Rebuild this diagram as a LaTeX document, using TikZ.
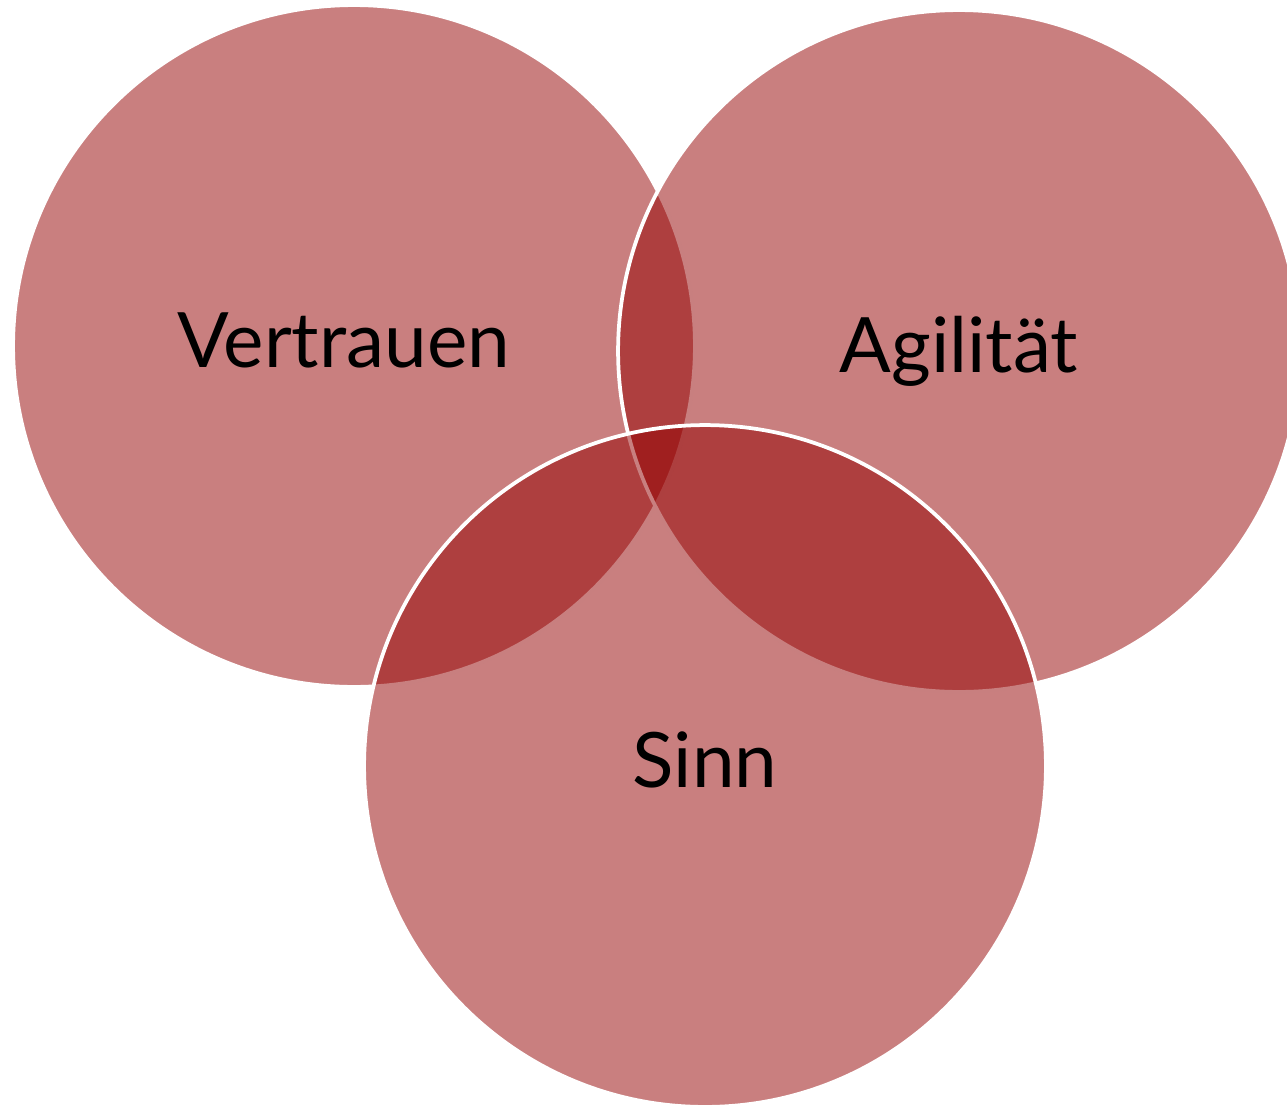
\documentclass[tikz,border=0pt]{standalone}
\usepackage{fontspec}
\setmainfont{Lato}
\definecolor{vennred}{RGB}{147,0,0}

\begin{document}
\begin{tikzpicture}[x=0.02cm, y=-0.02cm,
    bubble/.style ={circle, draw=white, line width=0.075cm, fill=vennred,
      fill opacity=0.5, text opacity=1, minimum size=13.64cm, inner sep=0pt,
      text height=1.2cm, text depth=0.36cm,
      font=\fontsize{43.5}{50}\selectfont}]
   \clip (0,0) rectangle (1287,1109);
   \node[bubble] (trust) at (354,346) {\kern-0.4cm Vertrauen};
   \node[bubble] (agility) at (959,351) {Agilität};
   \node[bubble] (purpose) at (705,766) {Sinn};
 \end{tikzpicture}
\end{document}
